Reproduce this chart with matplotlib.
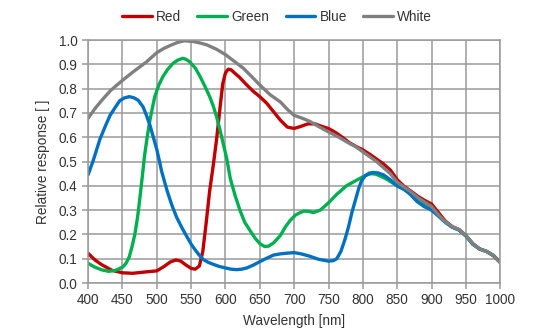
import matplotlib
matplotlib.use("Agg")
import matplotlib.pyplot as plt
import numpy as np

plt.rcParams['font.family'] = ['Liberation Sans', 'DejaVu Sans']

# spectral response curves
red_wl = [400, 410, 420, 435, 450, 465, 485, 500, 510, 520, 528, 535, 542, 550, 556,
          562, 567, 572, 577, 582, 587, 592, 596, 600, 604, 608, 615, 620, 630, 640,
          650, 660, 670, 680, 690, 700, 710, 720, 730, 740, 750, 760, 770, 780, 790,
          800, 810, 820, 830, 840, 850, 860, 870, 880, 890, 900, 910, 920, 930, 940,
          950, 960, 970, 980, 990, 1000]
red = [0.122, 0.095, 0.075, 0.052, 0.042, 0.040, 0.046, 0.050, 0.067, 0.087, 0.095,
       0.090, 0.075, 0.060, 0.057, 0.070, 0.130, 0.250, 0.380, 0.480, 0.590, 0.720,
       0.820, 0.865, 0.880, 0.878, 0.860, 0.848, 0.818, 0.790, 0.767, 0.740, 0.705,
       0.670, 0.642, 0.636, 0.645, 0.655, 0.655, 0.645, 0.636, 0.620, 0.600, 0.578,
       0.562, 0.548, 0.530, 0.510, 0.490, 0.465, 0.425, 0.398, 0.378, 0.357, 0.340,
       0.325, 0.290, 0.255, 0.232, 0.220, 0.195, 0.162, 0.140, 0.130, 0.113, 0.085]

green_wl = [400, 410, 420, 430, 440, 450, 455, 460, 464, 468, 472, 475, 479, 482, 486,
            490, 497, 503, 509, 516, 524, 531, 538, 543, 548, 556, 563, 570, 577, 582,
            587, 592, 597, 602, 607, 614, 621, 628, 636, 643, 650, 657, 663, 670, 680,
            687, 694, 702, 709, 714, 721, 728, 738, 744, 750, 762, 776, 790, 804, 812,
            819, 833, 850, 864, 879, 890, 900, 910, 920, 930, 940, 950, 960, 970, 980,
            990, 1000]
green = [0.081, 0.065, 0.054, 0.048, 0.052, 0.065, 0.080, 0.108, 0.150, 0.200, 0.270,
         0.340, 0.440, 0.520, 0.600, 0.670, 0.767, 0.815, 0.850, 0.880, 0.905, 0.918,
         0.925, 0.920, 0.910, 0.885, 0.850, 0.810, 0.767, 0.730, 0.685, 0.630, 0.570,
         0.510, 0.430, 0.360, 0.300, 0.250, 0.215, 0.185, 0.162, 0.150, 0.152, 0.165,
         0.196, 0.230, 0.257, 0.280, 0.290, 0.296, 0.295, 0.290, 0.300, 0.315, 0.330,
         0.365, 0.400, 0.422, 0.443, 0.450, 0.448, 0.430, 0.400, 0.380, 0.340, 0.320,
         0.310, 0.280, 0.250, 0.230, 0.218, 0.195, 0.160, 0.140, 0.130, 0.113, 0.085]

blue_wl = [400, 407, 417, 425, 432, 440, 446, 453, 460, 467, 473, 480, 485, 490, 495,
           500, 504, 507, 511, 515, 522, 529, 537, 544, 550, 556, 562, 568, 575, 583,
           591, 600, 608, 616, 624, 631, 640, 650, 660, 670, 680, 690, 700, 710, 723,
           735, 750, 757, 762, 768, 774, 779, 784, 789, 794, 798, 803, 809, 815, 822,
           830, 840, 850, 860, 869, 879, 889, 900, 910, 920, 930, 940, 950, 960, 970,
           980, 990, 1000]
blue = [0.446, 0.500, 0.590, 0.645, 0.690, 0.725, 0.750, 0.762, 0.767, 0.762, 0.752,
        0.725, 0.690, 0.650, 0.600, 0.550, 0.500, 0.460, 0.420, 0.380, 0.320, 0.270,
        0.225, 0.190, 0.160, 0.136, 0.114, 0.096, 0.085, 0.076, 0.068, 0.062, 0.057,
        0.055, 0.057, 0.062, 0.073, 0.088, 0.102, 0.115, 0.120, 0.123, 0.125, 0.120,
        0.110, 0.098, 0.090, 0.092, 0.100, 0.130, 0.180, 0.230, 0.290, 0.340, 0.390,
        0.420, 0.440, 0.452, 0.455, 0.453, 0.445, 0.425, 0.400, 0.385, 0.365, 0.335,
        0.315, 0.300, 0.275, 0.250, 0.230, 0.218, 0.193, 0.160, 0.140, 0.130, 0.113,
        0.085]

white_wl = [400, 410, 420, 432, 440, 450, 466, 485, 500, 510, 519, 530, 540, 553, 563,
            573, 587, 600, 613, 626, 638, 650, 665, 680, 690, 700, 710, 723, 735, 750,
            765, 777, 790, 800, 810, 820, 830, 840, 850, 860, 870, 880, 890, 900, 910,
            920, 930, 940, 950, 960, 970, 980, 990, 1000]
white = [0.678, 0.718, 0.752, 0.790, 0.810, 0.834, 0.870, 0.910, 0.948, 0.965, 0.977,
         0.990, 0.997, 0.994, 0.988, 0.980, 0.962, 0.940, 0.912, 0.884, 0.850, 0.815,
         0.775, 0.745, 0.715, 0.690, 0.680, 0.665, 0.645, 0.622, 0.600, 0.580, 0.560,
         0.540, 0.520, 0.500, 0.475, 0.450, 0.415, 0.395, 0.375, 0.352, 0.333, 0.315,
         0.280, 0.252, 0.232, 0.220, 0.195, 0.162, 0.140, 0.130, 0.113, 0.085]

series = [("Red", red_wl, red, "#c00000"),
          ("Green", green_wl, green, "#00b050"),
          ("Blue", blue_wl, blue, "#0070c0"),
          ("White", white_wl, white, "#808080")]

fig = plt.figure(figsize=(5.54, 3.31), dpi=100)
ax = fig.add_axes([0.159, 0.145, 0.744, 0.734])

for name, wl, vals, col in series:
    ax.plot(wl, vals, color=col, lw=2.4, label=name, solid_capstyle='round')

ax.set_xlim(400, 1000)
ax.set_ylim(0, 1.0)
ax.set_xticks(np.arange(400, 1001, 50))
ax.set_yticks(np.arange(0, 1.01, 0.1))
ax.yaxis.set_major_formatter(matplotlib.ticker.FormatStrFormatter('%.1f'))
ax.grid(True, color='#9a9a9a', lw=1.1)
ax.set_axisbelow(True)
for s in ax.spines.values():
    s.set_color('#9a9a9a')
    s.set_linewidth(1.1)
ax.tick_params(colors='#9a9a9a', labelcolor='#333333', labelsize=9.8, length=4, width=1.1)

ax.set_xlabel("Wavelength [nm]", fontsize=9.8, color='#333333', labelpad=5)
ax.set_ylabel("Relative response [ ]", fontsize=9.8, color='#333333', labelpad=6)

fig.legend(loc='center', bbox_to_anchor=(0.5, 0.95), ncol=4, frameon=False,
           fontsize=9.8, handlelength=2.2, handletextpad=0.3, columnspacing=1.2,
           labelcolor='#333333')

fig.savefig("out.png", dpi=100)
